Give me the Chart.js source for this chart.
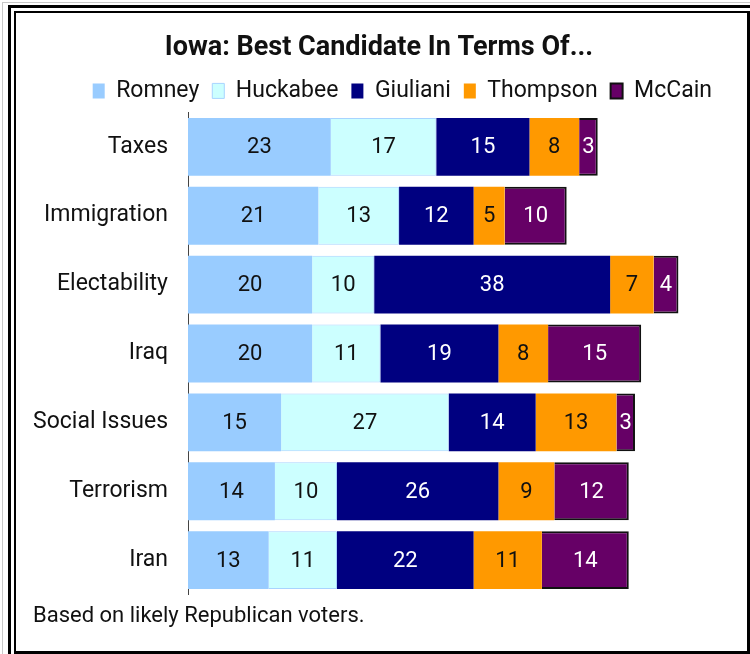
<!DOCTYPE html>
<html>
<head>
<meta charset="utf-8">
<script src="https://cdn.jsdelivr.net/npm/chart.js@4"></script>
<style>
  html, body { margin: 0; padding: 0; background: #fff; }
  body { width: 750px; height: 654px; position: relative; overflow: hidden; }
  .edge { position: absolute; left: 2px; top: 2px; right: -20px; bottom: -20px; border: 1px solid #c8c8c8; }
  .outer { position: absolute; left: 8px; top: 5px; right: -20px; bottom: -20px; border: 3px solid #000; }
  .inner { position: absolute; left: 14px; top: 11px; right: 0; bottom: 0; border: 2px solid #000; border-right-width: 3px; border-bottom-width: 3px; }
  #myChartIowa { position: absolute; left: 0; top: 0; }
</style>
</head>
<body>
<div class="edge"></div>
<div class="outer"></div>
<div class="inner"></div>
<canvas id="myChartIowa" width="750" height="654"></canvas>
<script>
const labels = [
  'Taxes',
  'Immigration',
  'Electability',
  'Iraq',
  'Social Issues',
  'Terrorism',
  'Iran',
];

const romney    = [23, 21, 20, 20, 15, 14, 13];
const huckabee  = [17, 13, 10, 11, 27, 10, 11];
const giuliani  = [15, 12, 38, 19, 14, 26, 22];
const thompson  = [8, 5, 7, 8, 13, 9, 11];
const mccain    = [3, 10, 4, 15, 3, 12, 14];

// numbers written in the middle of each bar piece
const barValues = {
  id: 'barValues',
  afterDatasetsDraw(chart) {
    const ctx = chart.ctx;
    ctx.save();
    ctx.font = '22px Roboto';
    ctx.textAlign = 'center';
    ctx.textBaseline = 'middle';
    chart.data.datasets.forEach((ds, i) => {
      const meta = chart.getDatasetMeta(i);
      ctx.fillStyle = ds.valueColor;
      meta.data.forEach((bar, j) => {
        const p = bar.getCenterPoint();
        ctx.fillText(ds.data[j], p.x, p.y + 1);
      });
    });
    ctx.restore();
  }
};

const chartData = {
  labels: labels,
  datasets: [
    { label: 'Romney', data: romney, backgroundColor: '#99ccff', valueColor: '#111' },
    { label: 'Huckabee', data: huckabee, backgroundColor: '#ccffff', borderColor: '#a8d4ff', borderWidth: 1, valueColor: '#111' },
    { label: 'Giuliani', data: giuliani, backgroundColor: '#000080', valueColor: '#fff' },
    { label: 'Thompson', data: thompson, backgroundColor: '#ff9900', valueColor: '#111' },
    { label: 'McCain', data: mccain, backgroundColor: '#660066', borderColor: '#111', borderWidth: 2, valueColor: '#fff' },
  ]
};

const config = {
  type: 'bar',
  data: chartData,
  plugins: [barValues],
  options: {
    indexAxis: 'y',
    responsive: false,
    animation: false,
    barPercentage: 1,
    categoryPercentage: 0.84,
    layout: { padding: { top: 26, left: 33, right: 25, bottom: 24 } },
    scales: {
      x: {
        stacked: true,
        display: false,
        min: 0,
        max: 86.5,
      },
      y: {
        stacked: true,
        grid: { display: false, drawTicks: false },
        border: { display: true, color: '#444', width: 1 },
        ticks: { color: '#111', padding: 20, font: { family: 'Roboto', size: 23 } },
        afterFit(scale) { scale.width = 155; },
      },
    },
    plugins: {
      tooltip: { enabled: false },
      title: {
        display: true,
        text: 'Iowa: Best Candidate In Terms Of...',
        color: '#111',
        font: { family: 'Roboto', size: 27, weight: 'bold' },
        padding: { top: 6, bottom: 2 },
      },
      legend: {
        display: true,
        align: 'end',
        labels: {
          color: '#111',
          font: { family: 'Roboto', size: 23 },
          boxWidth: 12,
          boxHeight: 15,
          padding: 13,
        },
      },
      subtitle: {
        display: true,
        position: 'bottom',
        align: 'start',
        text: 'Based on likely Republican voters.',
        color: '#111',
        font: { family: 'Roboto', size: 22 },
        padding: { top: 9, bottom: 0 },
      },
    },
  }
};

const myChart = new Chart(
  document.getElementById('myChartIowa'),
  config
);
</script>
</body>
</html>
